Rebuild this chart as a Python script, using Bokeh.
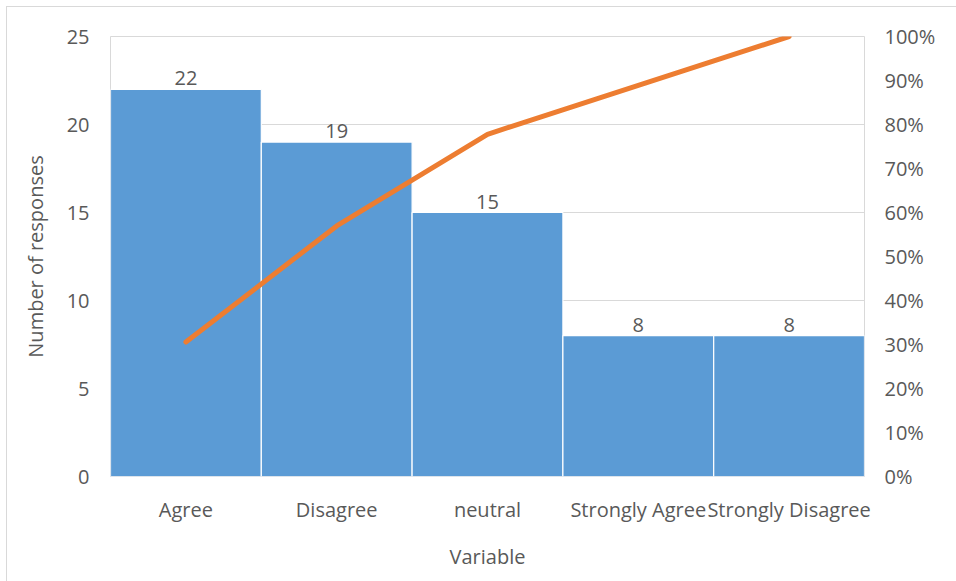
from bokeh.plotting import figure
from bokeh.models import (ColumnDataSource, FactorRange, Range1d, LinearAxis,
                          SingleIntervalTicker, NumeralTickFormatter, LabelSet)
from bokeh.core.properties import value
from bokeh.embed import file_html
from bokeh.resources import INLINE

# Survey responses, sorted in descending order (Pareto)
categories = ["Agree", "Disagree", "neutral", "Strongly Agree", "Strongly Disagree"]
responses = [22, 19, 15, 8, 8]

total = sum(responses)
cumulative = []
running = 0
for v in responses:
    running += v
    cumulative.append(running / total)

FONT = "Open Sans"
TEXT = "#595959"
GRID = "#d9d9d9"
FS = "20px"

src = ColumnDataSource(dict(cat=categories, n=responses, cum=cumulative,
                            lbl=[str(v) for v in responses]))

# the chart sits 7px in from the page corner, with a light outline round it
p = figure(width=949, height=574, x_range=FactorRange(*categories, range_padding=0),
           y_range=Range1d(0, 25), output_backend="svg", toolbar_location=None,
           min_border_left=103, min_border_right=92, min_border_top=29,
           min_border_bottom=105, margin=(7, 0, 0, 7),
           styles={"outline": "1px solid #d9d9d9"})
p.background_fill_color = "white"
p.border_fill_color = "white"
p.outline_line_color = GRID
p.outline_line_width = 1

# bars
p.vbar(x="cat", top="n", width=1.0, source=src, fill_color="#5b9bd5",
       line_color="white", line_width=1.2)

# value labels above bars
p.add_layout(LabelSet(x="cat", y="n", text="lbl", source=src, text_align="center",
                      text_baseline="bottom", y_offset=4, text_font=value(FONT),
                      text_font_size=FS, text_color=TEXT))

# cumulative percentage on secondary axis
p.extra_y_ranges = {"pct": Range1d(0, 1)}
p.line(x="cat", y="cum", source=src, y_range_name="pct", line_color="#ed7d31",
       line_width=5, line_cap="round")

pax = LinearAxis(y_range_name="pct", ticker=SingleIntervalTicker(interval=0.1),
                 formatter=NumeralTickFormatter(format="0%"))
p.add_layout(pax, "right")

p.yaxis[0].ticker = SingleIntervalTicker(interval=5)
p.yaxis[0].axis_label = "Number of responses"
p.xaxis[0].axis_label = "Variable"

for ax in p.axis:
    ax.axis_line_color = None
    ax.major_tick_line_color = None
    ax.minor_tick_line_color = None
    ax.major_label_text_font = FONT
    ax.major_label_text_font_size = FS
    ax.major_label_text_color = TEXT
    ax.axis_label_text_font = FONT
    ax.axis_label_text_font_size = FS
    ax.axis_label_text_color = TEXT
    ax.axis_label_text_font_style = "normal"

p.xaxis[0].major_label_standoff = 13
p.xaxis[0].axis_label_standoff = 17
p.yaxis[0].major_label_standoff = 15
p.yaxis[0].axis_label_standoff = 15
pax.major_label_standoff = 14

p.xgrid.grid_line_color = None
p.ygrid.grid_line_color = GRID
p.ygrid.grid_line_width = 1

open("out.html", "w").write(file_html(p, INLINE))
